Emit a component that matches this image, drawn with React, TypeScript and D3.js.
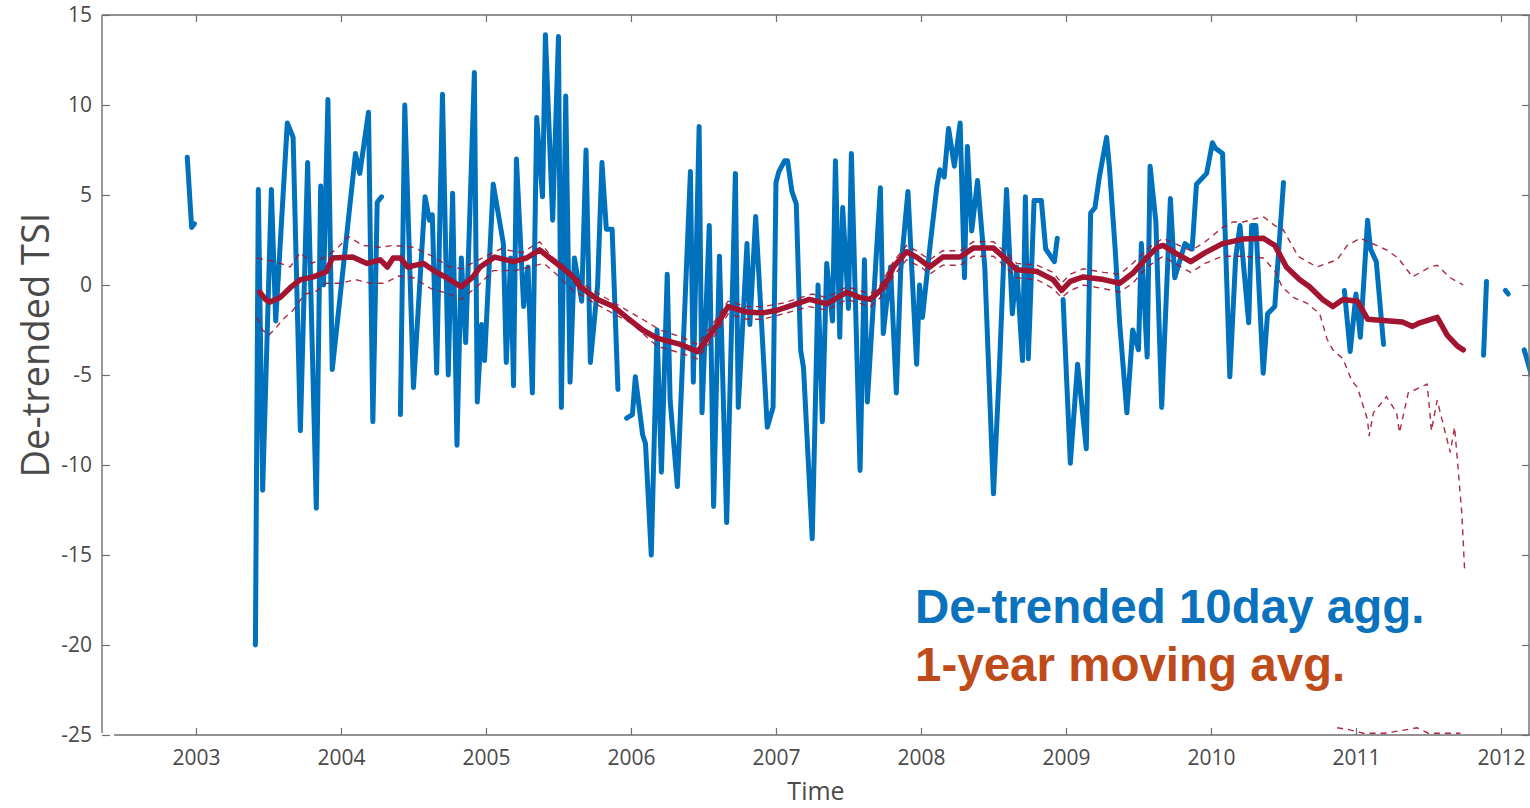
import * as d3 from "d3"
import { useEffect, useRef } from "react"

// de-trended 10-day aggregates [decimal year, TSI], one array per unbroken run
const tsiSegA = [[2002.94, 7.1], [2002.97, 3.2], [2002.99, 3.4]]
const tsiSegB = [
	[2003.41, -20.0], [2003.43, 5.3], [2003.46, -11.4], [2003.52, 5.3], [2003.55, -2.0], [2003.63, 9.0],
	[2003.67, 8.2], [2003.72, -8.1], [2003.77, 6.8], [2003.83, -12.4], [2003.86, 5.5], [2003.88, 0.0],
	[2003.91, 10.3], [2003.94, -4.7], [2004.10, 7.3], [2004.13, 6.2], [2004.19, 9.6], [2004.22, -7.6],
	[2004.25, 4.6], [2004.28, 4.9]
]
const tsiSegC = [
	[2004.41, -7.2], [2004.44, 10.0], [2004.50, -5.7], [2004.58, 4.9], [2004.61, 3.6], [2004.63, 3.9],
	[2004.66, -4.9], [2004.70, 10.6], [2004.74, -5.0], [2004.77, 5.1], [2004.80, -8.9], [2004.83, 1.5],
	[2004.86, -3.2], [2004.92, 11.8], [2004.94, -6.5], [2004.97, -2.2], [2004.99, -4.2], [2005.05, 5.6],
	[2005.12, 2.3], [2005.14, -4.3], [2005.17, 1.5], [2005.19, -5.6], [2005.21, 7.0], [2005.26, -1.2],
	[2005.29, 1.0], [2005.32, -6.0], [2005.35, 9.3], [2005.39, 4.9], [2005.41, 13.9], [2005.46, 3.6],
	[2005.50, 13.8], [2005.52, -6.8], [2005.55, 10.5], [2005.58, -5.4], [2005.61, 1.5], [2005.66, -0.9],
	[2005.69, 7.5], [2005.72, -4.3], [2005.77, 0.0], [2005.80, 6.8], [2005.83, 3.1], [2005.87, 3.1],
	[2005.91, -5.8]
]
const tsiSegD = [
	[2005.97, -7.4], [2006.01, -7.2], [2006.03, -5.1], [2006.08, -8.3], [2006.10, -8.8], [2006.14, -15.0],
	[2006.18, -2.5], [2006.21, -10.4], [2006.25, 0.6], [2006.27, -6.4], [2006.32, -11.2], [2006.41, 6.3],
	[2006.43, -5.4], [2006.47, 8.8], [2006.49, -7.1], [2006.54, 3.3], [2006.57, -12.3], [2006.61, 1.6],
	[2006.66, -13.2], [2006.72, 6.2], [2006.74, -6.8], [2006.80, 2.3], [2006.82, -2.2], [2006.86, 3.8],
	[2006.94, -7.9], [2006.98, -6.8], [2007.00, 5.7], [2007.02, 6.3], [2007.06, 6.9], [2007.08, 6.9],
	[2007.11, 5.2], [2007.14, 4.5], [2007.17, -3.6], [2007.19, -4.6], [2007.25, -14.1], [2007.27, -7.2],
	[2007.29, 0.0], [2007.32, -7.6], [2007.35, 1.2], [2007.39, -2.0], [2007.41, 6.9], [2007.44, -2.9],
	[2007.46, 4.3], [2007.50, -1.3], [2007.52, 7.3], [2007.58, -10.3], [2007.61, 1.4], [2007.63, -6.5],
	[2007.72, 5.4], [2007.74, -2.7], [2007.79, 1.0], [2007.83, -6.0], [2007.86, 0.8], [2007.91, 5.2],
	[2007.97, -4.4], [2007.99, 0.0], [2008.01, -1.8], [2008.06, 2.0], [2008.11, 5.5], [2008.13, 6.4],
	[2008.16, 6.0], [2008.19, 8.7], [2008.23, 6.6], [2008.27, 9.0], [2008.30, 0.4], [2008.32, 7.7],
	[2008.35, 3.0], [2008.39, 5.8], [2008.44, 1.0], [2008.50, -11.6], [2008.54, -4.8], [2008.59, 5.3],
	[2008.63, -1.6], [2008.66, 1.0], [2008.70, -4.2], [2008.72, 4.9], [2008.74, -4.1], [2008.78, 4.7],
	[2008.83, 4.7], [2008.86, 2.0], [2008.92, 1.3], [2008.94, 2.6]
]
const tsiSegE = [
	[2008.98, -0.8], [2009.03, -9.9], [2009.08, -4.4], [2009.14, -9.1], [2009.17, 4.0], [2009.20, 4.3],
	[2009.23, 6.0], [2009.28, 8.2], [2009.30, 6.5], [2009.34, 1.9], [2009.37, -2.1], [2009.42, -7.1],
	[2009.46, -2.5], [2009.50, -3.6], [2009.52, 2.3], [2009.56, -4.0], [2009.58, 6.6], [2009.62, 3.5],
	[2009.66, -6.8], [2009.72, 4.8], [2009.75, 0.4], [2009.82, 2.3], [2009.87, 2.0], [2009.90, 5.6],
	[2009.97, 6.2], [2010.01, 7.9], [2010.03, 7.6], [2010.08, 7.3], [2010.13, -5.1], [2010.17, 1.5],
	[2010.20, 3.3], [2010.26, -2.1], [2010.28, 3.3], [2010.31, 3.3], [2010.36, -4.9], [2010.39, -1.6],
	[2010.44, -1.2], [2010.50, 5.7]
]
const tsiSegF = [
	[2010.92, -0.3], [2010.96, -3.7], [2011.00, -0.5], [2011.03, -2.9], [2011.08, 3.6], [2011.10, 2.0],
	[2011.14, 1.3], [2011.19, -3.3]
]
const tsiSegG = [[2011.88, -3.9], [2011.90, 0.2]]
const tsiSegH = [[2012.03, -0.3], [2012.05, -0.5]]
const tsiSegI = [[2012.16, -3.6], [2012.21, -5.0]]
const tsiSegments = [tsiSegA, tsiSegB, tsiSegC, tsiSegD, tsiSegE, tsiSegF, tsiSegG, tsiSegH, tsiSegI]

// 1-year moving average
const movingAvg = [
	[2003.44, -0.4], [2003.48, -0.8], [2003.51, -0.95], [2003.58, -0.7], [2003.65, -0.15], [2003.72, 0.3],
	[2003.81, 0.45], [2003.90, 0.75], [2003.94, 1.5], [2004.08, 1.55], [2004.18, 1.2], [2004.27, 1.4],
	[2004.32, 1.0], [2004.36, 1.5], [2004.41, 1.5], [2004.46, 1.0], [2004.57, 1.2], [2004.66, 0.7],
	[2004.73, 0.4], [2004.83, -0.1], [2004.91, 0.45], [2004.96, 1.0], [2005.06, 1.55], [2005.19, 1.3],
	[2005.28, 1.5], [2005.37, 1.95], [2005.44, 1.5], [2005.52, 1.0], [2005.60, 0.45], [2005.65, -0.1],
	[2005.77, -0.8], [2005.88, -1.2], [2005.97, -1.8], [2006.08, -2.5], [2006.18, -2.95], [2006.34, -3.3],
	[2006.46, -3.7], [2006.57, -2.5], [2006.67, -1.2], [2006.80, -1.5], [2006.91, -1.55], [2007.01, -1.4],
	[2007.12, -1.1], [2007.23, -0.8], [2007.35, -1.05], [2007.49, -0.4], [2007.58, -0.7], [2007.65, -0.8],
	[2007.72, -0.3], [2007.77, 0.3], [2007.81, 1.0], [2007.90, 1.85], [2007.97, 1.55], [2008.06, 1.0],
	[2008.15, 1.55], [2008.27, 1.55], [2008.36, 2.05], [2008.50, 2.05], [2008.57, 1.55], [2008.66, 0.85],
	[2008.80, 0.75], [2008.91, 0.3], [2008.97, -0.3], [2009.03, 0.2], [2009.12, 0.45], [2009.26, 0.3],
	[2009.37, 0.1], [2009.46, 0.65], [2009.56, 1.55], [2009.63, 2.1], [2009.67, 2.2], [2009.75, 1.8],
	[2009.86, 1.3], [2009.96, 1.8], [2010.08, 2.3], [2010.22, 2.55], [2010.36, 2.6], [2010.44, 2.2],
	[2010.52, 1.0], [2010.61, 0.3], [2010.68, -0.1], [2010.77, -0.8], [2010.84, -1.2], [2010.91, -0.8],
	[2011.01, -0.9], [2011.08, -1.9], [2011.32, -2.05], [2011.39, -2.3], [2011.44, -2.1], [2011.56, -1.8],
	[2011.63, -2.8], [2011.70, -3.4], [2011.74, -3.6]
]

// dashed bounds of the moving average
const upperBound = [
	[2003.42, 1.5], [2003.48, 1.4], [2003.55, 1.3], [2003.65, 1.0], [2003.72, 1.8], [2003.80, 1.2],
	[2003.90, 1.6], [2003.97, 2.0], [2004.05, 2.7], [2004.15, 2.2], [2004.27, 2.1], [2004.36, 2.2],
	[2004.50, 2.1], [2004.63, 1.6], [2004.75, 1.0], [2004.83, 0.9], [2004.95, 1.4], [2005.10, 2.0],
	[2005.25, 1.8], [2005.37, 2.4], [2005.45, 1.6], [2005.55, 1.0], [2005.68, 0.0], [2005.80, -0.6],
	[2005.95, -1.3], [2006.10, -2.0], [2006.20, -2.5], [2006.35, -2.9], [2006.46, -3.3], [2006.57, -2.1],
	[2006.67, -0.9], [2006.80, -1.2], [2006.91, -1.2], [2007.05, -1.0], [2007.25, -0.5], [2007.35, -0.7],
	[2007.49, -0.1], [2007.65, -0.5], [2007.72, 0.0], [2007.81, 1.3], [2007.90, 2.2], [2007.97, 1.9],
	[2008.06, 1.4], [2008.15, 1.9], [2008.27, 1.9], [2008.36, 2.4], [2008.50, 2.4], [2008.57, 1.9],
	[2008.66, 1.2], [2008.80, 1.1], [2008.91, 0.7], [2008.97, 0.1], [2009.03, 0.6], [2009.12, 0.9],
	[2009.26, 0.7], [2009.37, 0.6], [2009.46, 1.2], [2009.56, 2.0], [2009.67, 2.6], [2009.75, 2.3],
	[2009.86, 1.9], [2009.96, 2.4], [2010.08, 3.2], [2010.15, 3.5], [2010.22, 3.5], [2010.36, 3.8],
	[2010.44, 3.3], [2010.50, 3.05], [2010.60, 1.6], [2010.73, 1.0], [2010.87, 1.4], [2010.94, 2.2],
	[2011.03, 2.6], [2011.21, 1.95], [2011.29, 1.5], [2011.39, 0.45], [2011.51, 1.0], [2011.56, 1.1],
	[2011.65, 0.4], [2011.74, 0.0]
]
const lowerBound = [
	[2003.42, -1.8], [2003.46, -2.5], [2003.50, -2.8], [2003.55, -2.4], [2003.60, -1.9], [2003.67, -1.4],
	[2003.75, -0.5], [2003.82, -0.4], [2003.90, 0.1], [2004.00, 0.1], [2004.10, 0.3], [2004.20, 0.1],
	[2004.30, 0.1], [2004.40, 0.5], [2004.50, 0.4], [2004.62, -0.2], [2004.73, -0.45], [2004.83, -0.8],
	[2004.95, 0.0], [2005.05, 0.8], [2005.20, 0.8], [2005.30, 1.0], [2005.40, 1.2], [2005.50, 0.5],
	[2005.60, -0.3], [2005.77, -1.1], [2005.88, -1.6], [2006.00, -2.1], [2006.18, -3.4], [2006.35, -3.8],
	[2006.46, -4.1], [2006.57, -2.9], [2006.67, -1.6], [2006.80, -1.9], [2006.91, -1.9], [2007.05, -1.6],
	[2007.23, -1.2], [2007.35, -1.4], [2007.49, -0.8], [2007.65, -1.2], [2007.72, -0.7], [2007.81, 0.5],
	[2007.90, 1.4], [2008.00, 1.0], [2008.06, 0.6], [2008.15, 1.1], [2008.27, 1.1], [2008.36, 1.6],
	[2008.50, 1.6], [2008.57, 1.1], [2008.66, 0.4], [2008.80, 0.3], [2008.91, -0.2], [2008.97, -0.7],
	[2009.03, -0.3], [2009.12, 0.0], [2009.26, -0.2], [2009.37, -0.4], [2009.46, 0.1], [2009.56, 1.0],
	[2009.67, 1.6], [2009.75, 1.2], [2009.86, 0.7], [2009.96, 1.2], [2010.08, 1.6], [2010.22, 1.6],
	[2010.36, 1.5], [2010.44, 0.8], [2010.49, -0.1], [2010.57, -0.7], [2010.66, -1.0], [2010.75, -1.6],
	[2010.80, -3.0], [2010.84, -3.6], [2010.91, -4.1], [2010.97, -5.3], [2011.01, -5.7], [2011.08, -7.5],
	[2011.09, -8.4], [2011.12, -7.1], [2011.21, -6.2], [2011.28, -7.1], [2011.30, -8.2], [2011.36, -6.0],
	[2011.44, -5.7], [2011.49, -5.5], [2011.51, -7.1], [2011.52, -8.1], [2011.56, -6.4], [2011.60, -7.7],
	[2011.65, -9.3], [2011.68, -7.9], [2011.70, -9.8], [2011.73, -12.7], [2011.75, -16.0]
]
// second lower bound, runs along the bottom of the axes at the end
const lowerFloor = [
	[2010.87, -24.6], [2010.95, -24.7], [2011.05, -24.9], [2011.20, -24.9], [2011.35, -24.7],
	[2011.42, -24.6], [2011.50, -24.9], [2011.72, -24.9]
]

const yearTicks = [2003, 2004, 2005, 2006, 2007, 2008, 2009, 2010, 2011, 2012]
const tsiTicks = [-25, -20, -15, -10, -5, 0, 5, 10, 15]
const legendLabels = ['De-trended 10day agg.', '1-year moving avg.']

export default function App() {

	const svgRef = useRef(null)

	useEffect(() => {
		const svg = d3.select(svgRef.current)
		svg.selectAll('*').remove()

		const left = 102, top = 15, right = 1530, bottom = 735
		const axisColor = '#6f6f6f'
		const labelColor = '#4a4a4a'
		const font = '"Open Sans", sans-serif'

		const x = d3.scaleLinear().domain([2002.352, 2012.2]).range([left, right])
		const y = d3.scaleLinear().domain([-25, 15]).range([bottom, top])

		svg.append('defs').append('clipPath')
			.attr('id', 'plot-clip')
			.append('rect')
			.attr('x', left).attr('y', top)
			.attr('width', right - left).attr('height', bottom - top)

		const line = d3.line().x(d => x(d[0])).y(d => y(d[1]))

		const plot = svg.append('g').attr('clip-path', 'url(#plot-clip)')

		// blue 10-day series
		plot.append('g')
			.selectAll('path')
			.data(tsiSegments)
			.enter()
			.append('path')
			.attr('d', line)
			.attr('fill', 'none')
			.attr('stroke', '#0072bd')
			.attr('stroke-width', 5)
			.attr('stroke-linejoin', 'round')
			.attr('stroke-linecap', 'round')

		// dashed bounds
		plot.append('g')
			.selectAll('path')
			.data([upperBound, lowerBound, lowerFloor])
			.enter()
			.append('path')
			.attr('d', line)
			.attr('fill', 'none')
			.attr('stroke', '#a2142f')
			.attr('stroke-width', 1.4)
			.attr('stroke-dasharray', '6 5')
			.attr('opacity', 0.9)

		// moving average
		plot.append('path')
			.attr('d', line(movingAvg))
			.attr('fill', 'none')
			.attr('stroke', '#a2142f')
			.attr('stroke-width', 5.5)
			.attr('stroke-linejoin', 'round')
			.attr('stroke-linecap', 'round')

		// axes, ticks pointing inward; plain hyphen for negatives like the figure
		const plain = d => String(d)

		const xBottom = d3.axisBottom(x).tickValues(yearTicks).tickFormat(plain)
			.tickSizeInner(-7).tickSizeOuter(0).tickPadding(15)
		const gx = svg.append('g').attr('transform', `translate(0, ${bottom})`).call(xBottom)
		gx.select('.domain').remove()

		const xTop = d3.axisTop(x).tickValues(yearTicks).tickFormat(() => '')
			.tickSizeInner(-7).tickSizeOuter(0)
		const gxt = svg.append('g').attr('transform', `translate(0, ${top})`).call(xTop)
		gxt.select('.domain').remove()

		const yLeft = d3.axisLeft(y).tickValues(tsiTicks).tickFormat(plain)
			.tickSizeInner(-8).tickSizeOuter(0).tickPadding(10)
		const gy = svg.append('g').attr('transform', `translate(${left}, 0)`).call(yLeft)
		gy.select('.domain').remove()

		const yRight = d3.axisRight(y).tickValues(tsiTicks).tickFormat(() => '')
			.tickSizeInner(-7).tickSizeOuter(0)
		const gyr = svg.append('g').attr('transform', `translate(${right - 1}, 0)`).call(yRight)
		gyr.select('.domain').remove()

		svg.selectAll('.tick line').attr('stroke', axisColor).attr('stroke-width', 1.2)
		svg.selectAll('.tick text')
			.attr('fill', labelColor)
			.style('font-family', font)
			.style('font-size', '21px')

		// axis lines (bottom one starts a little right of the y axis, as in the figure)
		const frame = svg.append('g').attr('stroke', axisColor).attr('stroke-width', 1.4)
		frame.append('line').attr('x1', left).attr('x2', left).attr('y1', top).attr('y2', bottom - 2)
		frame.append('line').attr('x1', left).attr('x2', right).attr('y1', top).attr('y2', top)
		frame.append('line').attr('x1', left + 12).attr('x2', right).attr('y1', bottom).attr('y2', bottom)
		frame.append('line').attr('x1', right - 1).attr('x2', right - 1).attr('y1', top).attr('y2', bottom)

		// axis titles
		svg.append('text')
			.attr('transform', 'translate(49, 345) rotate(-90)')
			.attr('text-anchor', 'middle')
			.attr('fill', labelColor)
			.style('font-family', font)
			.style('font-size', '38px')
			.text('De-trended TSI')

		svg.append('text')
			.attr('x', 816)
			.attr('y', 800)
			.attr('text-anchor', 'middle')
			.attr('fill', labelColor)
			.style('font-family', font)
			.style('font-size', '25px')
			.text('Time')

		// legend text
		const legend = svg.append('g')
			.style('font-family', '"Liberation Sans", Arial, sans-serif')
			.style('font-weight', 'bold')
			.style('font-size', '47.5px')
		legend.append('text').attr('x', 915).attr('y', 623).attr('fill', '#0b72bd').text(legendLabels[0])
		legend.append('text').attr('x', 915).attr('y', 681).attr('fill', '#be4b19').text(legendLabels[1])

	}, [])

	return <svg ref={svgRef} width={1530} height={808}
		style={{ position: 'absolute', left: 0, top: 0, background: '#fff' }} />
}
